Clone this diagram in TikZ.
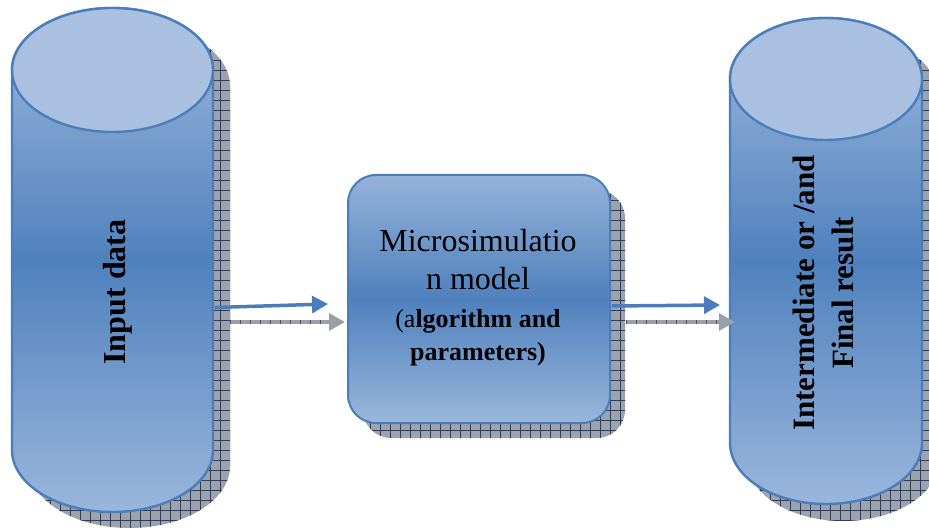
\documentclass[tikz,border=0pt]{standalone}
\usepackage{fontspec}
\setmainfont{Liberation Serif}
\usetikzlibrary{arrows.meta}

\definecolor{edgeblue}{HTML}{4A7EBB}
\definecolor{capfill}{HTML}{A9C0E0}
\definecolor{lightbody}{HTML}{95B2DA}
\definecolor{darkbody}{HTML}{4F81BD}
\definecolor{shadefill}{HTML}{9EA2AB}
\definecolor{shadegrid}{HTML}{2E3D5A}
\definecolor{arrowgray}{HTML}{9A9FA8}

% outline of an upright cylinder: left x, right x, top y, bottom y, half-width, end radius
\def\cylOutline#1#2#3#4#5#6{(#1,#3) -- (#1,#4)
  arc[start angle=180,end angle=0,x radius=#5,y radius=#6] -- (#2,#3)
  arc[start angle=0,end angle=-180,x radius=#5,y radius=#6] -- cycle}

\tikzset{
  x=1pt, y=-1pt,
  bodyshade/.style={draw=edgeblue, line width=2.4pt, top color=lightbody!90!white,
    bottom color=lightbody!95!white, middle color=darkbody},
  capstyle/.style={draw=edgeblue, line width=2.4pt, fill=capfill},
  gridshadow/.style={fill=shadefill},
  gridlines/.style={draw=shadegrid, line width=0.7pt},
  flowarrow/.style={draw=edgeblue, line width=3.5pt,
    -{Triangle[length=16pt,width=17pt]}},
  echoarrow/.style={draw=arrowgray, line width=3.5pt,
    -{Triangle[length=16pt,width=17pt]}},
  ticks/.style={draw=shadegrid!80!arrowgray, line width=3.5pt, dash pattern=on 0.8pt off 9.2pt},
  bigtext/.style={font=\fontsize{32}{38}\selectfont\bfseries},
  modeltext/.style={font=\fontsize{32}{38}\selectfont, anchor=base},
  modelsmall/.style={font=\fontsize{26}{33}\selectfont, anchor=base},
}

\begin{document}
\begin{tikzpicture}
\useasboundingbox (0,0) rectangle (929,529);

% ---- hatched drop shadows ----
\begin{scope}
  \clip[shift={(17,16)}] \cylOutline{12}{213}{70}{450}{100.5}{62};
  \fill[gridshadow] (0,0) rectangle (260,529);
  \draw[gridlines,step=10pt] (0,0) grid (260,529);
\end{scope}
\begin{scope}
  \clip[shift={(17,17)}] \cylOutline{730}{922}{79}{443}{96}{61};
  \fill[gridshadow] (700,0) rectangle (929,529);
  \draw[gridlines,step=10pt] (700,0) grid (929,529);
\end{scope}
\begin{scope}
  \clip[rounded corners=28pt] (363,190) rectangle (625,438);
  \fill[gridshadow] (360,180) rectangle (630,440);
  \draw[gridlines,step=10pt] (360,180) grid (630,440);
\end{scope}

% ---- input cylinder ----
\path[bodyshade] \cylOutline{12}{213}{70}{450}{100.5}{62};
\draw[capstyle] (112.5,70) ellipse[x radius=100.5, y radius=62];
\node[bigtext, rotate=90] (input) at (118,292) {Input data};

% ---- result cylinder ----
\path[bodyshade] \cylOutline{730}{922}{79}{443}{96}{61};
\draw[capstyle] (826,79) ellipse[x radius=96, y radius=61];
\node[bigtext, rotate=90, align=center, font=\fontsize{31}{39}\selectfont\bfseries]
  (result) at (823,293) {Intermediate or /and\\Final result};

% ---- model box ----
\node[draw=edgeblue, line width=2pt, rounded corners=28pt,
  top color=lightbody, bottom color=lightbody!95!white, middle color=darkbody,
  minimum width=262pt, minimum height=248pt] (model) at (479,299) {};
\node[modeltext] (m1) at (478,252) {Microsimulatio};
\node[modeltext] (m2) at (478,290) {n model};
\node[modelsmall] (m3) at (478,327) {(a\textbf{lgorithm and}};
\node[modelsmall] (m4) at (478,360) {\textbf{parameters)}};

% ---- connectors ----
\coordinate (inA) at (215,307.5);
\coordinate (inB) at (230,322);
\coordinate (outA) at (612,306);
\coordinate (outB) at (626,322);
\coordinate (resA) at (720,305);
\coordinate (resB) at (735,322);
\coordinate (modA) at (328,304);
\coordinate (modB) at (345,322);

\draw[echoarrow] (inB) -- (modB);
\draw[ticks] (inB) -- ([xshift=-16pt]modB);
\draw[flowarrow] (inA) -- (modA);

\draw[echoarrow] (outB) -- (resB);
\draw[ticks] (outB) -- ([xshift=-16pt]resB);
\draw[flowarrow] (outA) -- (resA);
\end{tikzpicture}
\end{document}
